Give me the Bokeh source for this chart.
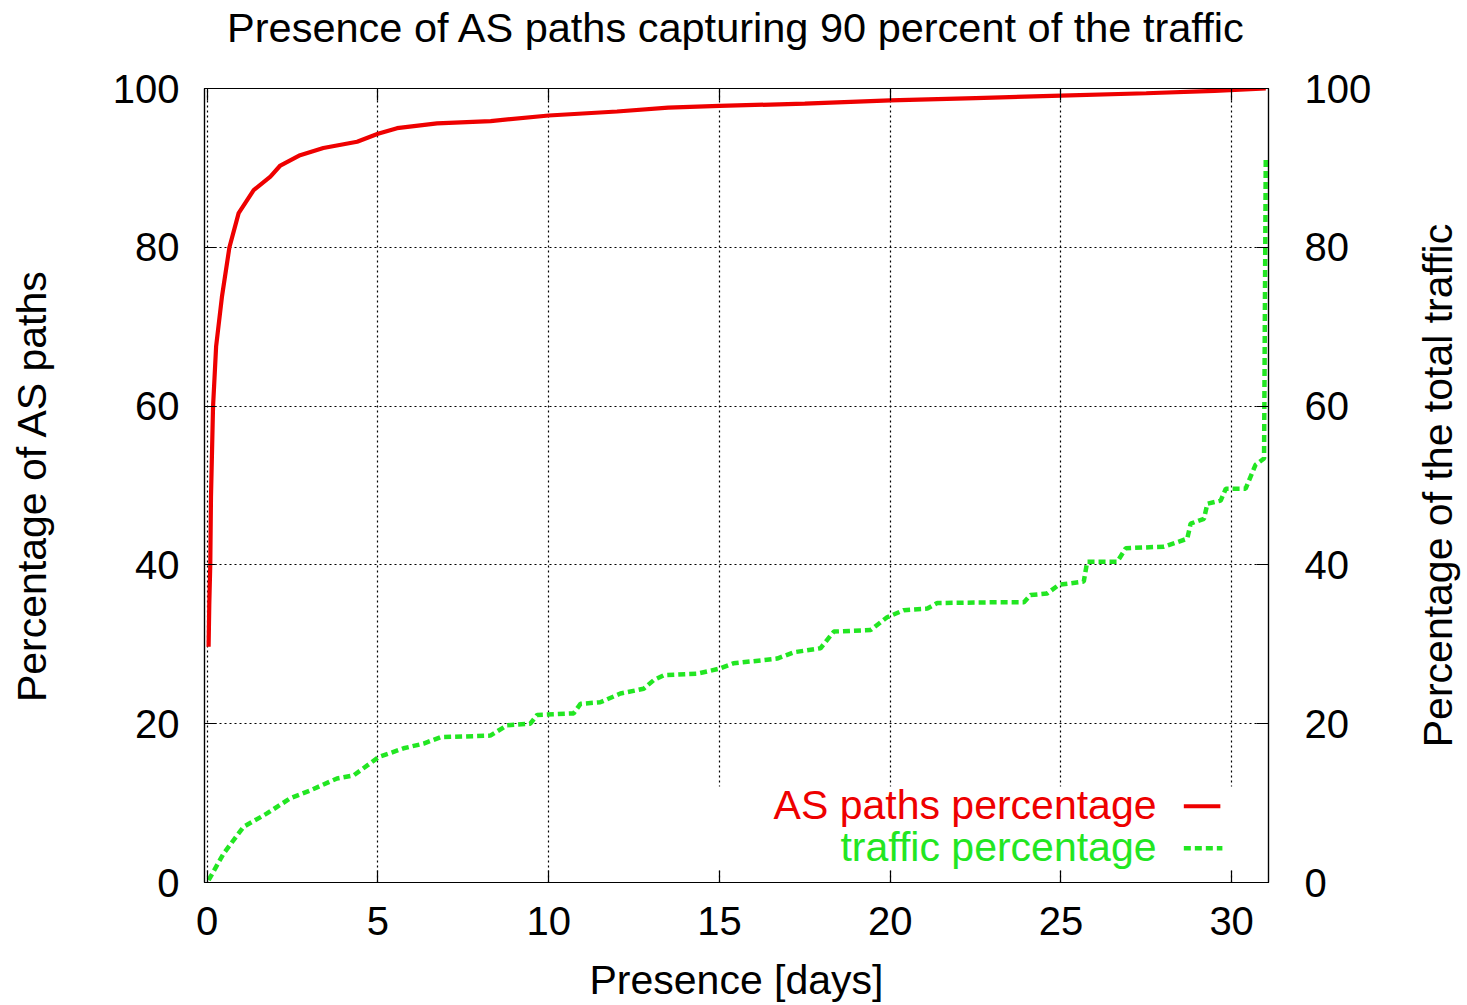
from bokeh.plotting import figure
from bokeh.models import Range1d, LinearAxis, FixedTicker, BoxAnnotation, Label, Title
from bokeh.layouts import row
from bokeh.embed import file_html
from bokeh.resources import INLINE

# ---- data ----
x_ticks = [0, 5, 10, 15, 20, 25, 30]
y_ticks = [0, 20, 40, 60, 80, 100]

as_days = [0.04, 0.06, 0.09, 0.11, 0.17, 0.26, 0.43, 0.65, 0.92, 1.36, 1.85, 2.14,
           2.72, 3.4, 4.39, 5.0, 5.56, 6.73, 8.3, 10.0, 12.0, 13.5, 15.0, 17.5,
           20.0, 22.5, 25.0, 27.5, 29.5, 31.0]
as_pct = [29.7, 35.0, 40.2, 48.6, 59.9, 67.5, 73.75, 80.0, 84.3, 87.2, 88.9, 90.3,
          91.6, 92.5, 93.3, 94.3, 95.0, 95.6, 95.9, 96.6, 97.1, 97.6, 97.8, 98.1,
          98.5, 98.8, 99.1, 99.4, 99.7, 100.0]

traffic_days = [0.04, 0.48, 1.06, 1.75, 2.43, 3.02, 3.8, 4.29, 5.02, 5.75, 6.34, 6.83,
                8.29, 8.78, 9.46, 9.66, 10.73, 10.93, 11.51, 12.1, 12.78, 13.08, 13.37,
                14.34, 14.97, 15.41, 16.69, 17.18, 17.96, 18.35, 19.43, 19.91, 20.4,
                21.09, 21.38, 23.23, 23.92, 24.11, 24.6, 24.94, 25.67, 25.77, 26.65,
                26.9, 28.02, 28.7, 28.8, 29.19, 29.29, 29.68, 29.83, 30.41, 30.7,
                30.95, 31.0]
traffic_pct = [0.3, 3.65, 7.0, 8.7, 10.6, 11.6, 13.1, 13.5, 15.8, 16.9, 17.5, 18.3,
               18.5, 19.8, 20.0, 21.1, 21.3, 22.5, 22.7, 23.8, 24.4, 25.5, 26.1,
               26.3, 26.9, 27.6, 28.2, 29.0, 29.5, 31.6, 31.8, 33.4, 34.3,
               34.5, 35.2, 35.3, 35.3, 36.2, 36.4, 37.5, 37.9, 40.4, 40.4,
               42.1, 42.3, 43.3, 45.2, 45.8, 47.7, 48.1, 49.6, 49.6, 52.6,
               53.4, 91.3]

series_names = ["AS paths percentage", "traffic percentage"]
title_text = "Presence of AS paths capturing 90 percent of the traffic"
x_label = "Presence [days]"
y_label = "Percentage of AS paths"
y2_label = "Percentage of the total traffic"

RED = "#ee0000"
GREEN = "#22e622"
FONT = "Liberation Sans"
FS = "41px"
TITLE_FS = "41.5px"
TFS = "40px"

X0, X1 = -0.08, 31.08

p = figure(frame_width=1064, frame_height=794,
           x_range=Range1d(X0, X1), y_range=Range1d(0, 100),
           output_backend="svg", toolbar_location=None,
           min_border_left=204, min_border_right=140,
           min_border_top=88, min_border_bottom=110,
           background_fill_color="white", border_fill_color="white",
           outline_line_color="black", outline_line_width=1.2)
p.extra_y_ranges = {"y2": Range1d(0, 100)}

# grids
for g in (p.xgrid, p.ygrid):
    g.grid_line_color = "black"
    g.grid_line_dash = "2 3"
    g.grid_line_width = 1.2
p.xgrid.ticker = FixedTicker(ticks=x_ticks)
p.ygrid.ticker = FixedTicker(ticks=y_ticks)

def style_axis(ax, label_standoff, tick_standoff):
    ax.major_tick_in = 12
    ax.major_tick_out = 0
    ax.minor_tick_line_color = None
    ax.major_tick_line_color = "black"
    ax.major_tick_line_width = 1.2
    ax.axis_line_color = "black"
    ax.axis_line_width = 1.2
    ax.major_label_text_font = FONT
    ax.major_label_text_font_size = TFS
    ax.major_label_text_color = "black"
    ax.axis_label_text_font = FONT
    ax.axis_label_text_font_size = FS
    ax.axis_label_text_font_style = "normal"
    ax.axis_label_text_color = "black"
    ax.axis_label_standoff = label_standoff
    ax.major_label_standoff = tick_standoff

p.xaxis.ticker = FixedTicker(ticks=x_ticks)
p.xaxis.axis_label = x_label
style_axis(p.xaxis[0], 19, 24)

p.yaxis.ticker = FixedTicker(ticks=y_ticks)
p.yaxis.axis_label = y_label
style_axis(p.yaxis[0], 55, 25)

y2 = LinearAxis(y_range_name="y2", ticker=FixedTicker(ticks=y_ticks))
style_axis(y2, 0, 36)
p.add_layout(y2, "right")

# mirrored top ticks; its label carries the chart title
top = LinearAxis(ticker=FixedTicker(ticks=x_ticks), axis_label=title_text)
style_axis(top, 38, 0)
top.axis_label_text_font_size = TITLE_FS
top.major_label_text_font_size = "1px"
top.major_label_text_alpha = 0
p.add_layout(top, "above")

# key box hiding the grid (gnuplot style: text then sample)
box = BoxAnnotation(left=14.95, right=30.2, bottom=1.5, top=12.1,
                    fill_color="white", fill_alpha=1.0, line_color=None, level="underlay")
p.add_layout(box)

# data lines
p.line(as_days, as_pct, line_color=RED, line_width=4.2)
p.line(traffic_days, traffic_pct, line_color=GREEN, line_width=4.5, line_dash="7 4",
       y_range_name="y2")

p.add_layout(Label(x=27.8, y=9.8, text=series_names[0], text_align="right",
                   text_baseline="middle", text_font=FONT, text_font_size=FS,
                   text_color=RED))
p.add_layout(Label(x=27.8, y=4.5, text=series_names[1], text_align="right",
                   text_baseline="middle", text_font=FONT, text_font_size=FS,
                   text_color=GREEN))
p.segment(x0=[28.6], y0=[9.6], x1=[29.67], y1=[9.6], line_color=RED, line_width=4)
p.segment(x0=[28.6], y0=[4.3], x1=[29.73], y1=[4.3], line_color=GREEN, line_width=4.5,
          line_dash="7 4")

# narrow companion panel carrying the right-hand axis title (reads upward)
q = figure(frame_width=5, frame_height=794, min_border_left=52, min_border_right=0,
           min_border_top=88, min_border_bottom=110, output_backend="svg",
           toolbar_location=None, x_axis_location=None, y_axis_location=None,
           outline_line_color=None, background_fill_color="white",
           border_fill_color="white")
q.grid.visible = False
q.add_layout(Title(text=y2_label, align="center", text_font=FONT, text_font_size=FS,
                   text_font_style="normal", text_color="black", standoff=0), "left")

layout = row(p, q)
open("out.html", "w").write(file_html(layout, INLINE))
